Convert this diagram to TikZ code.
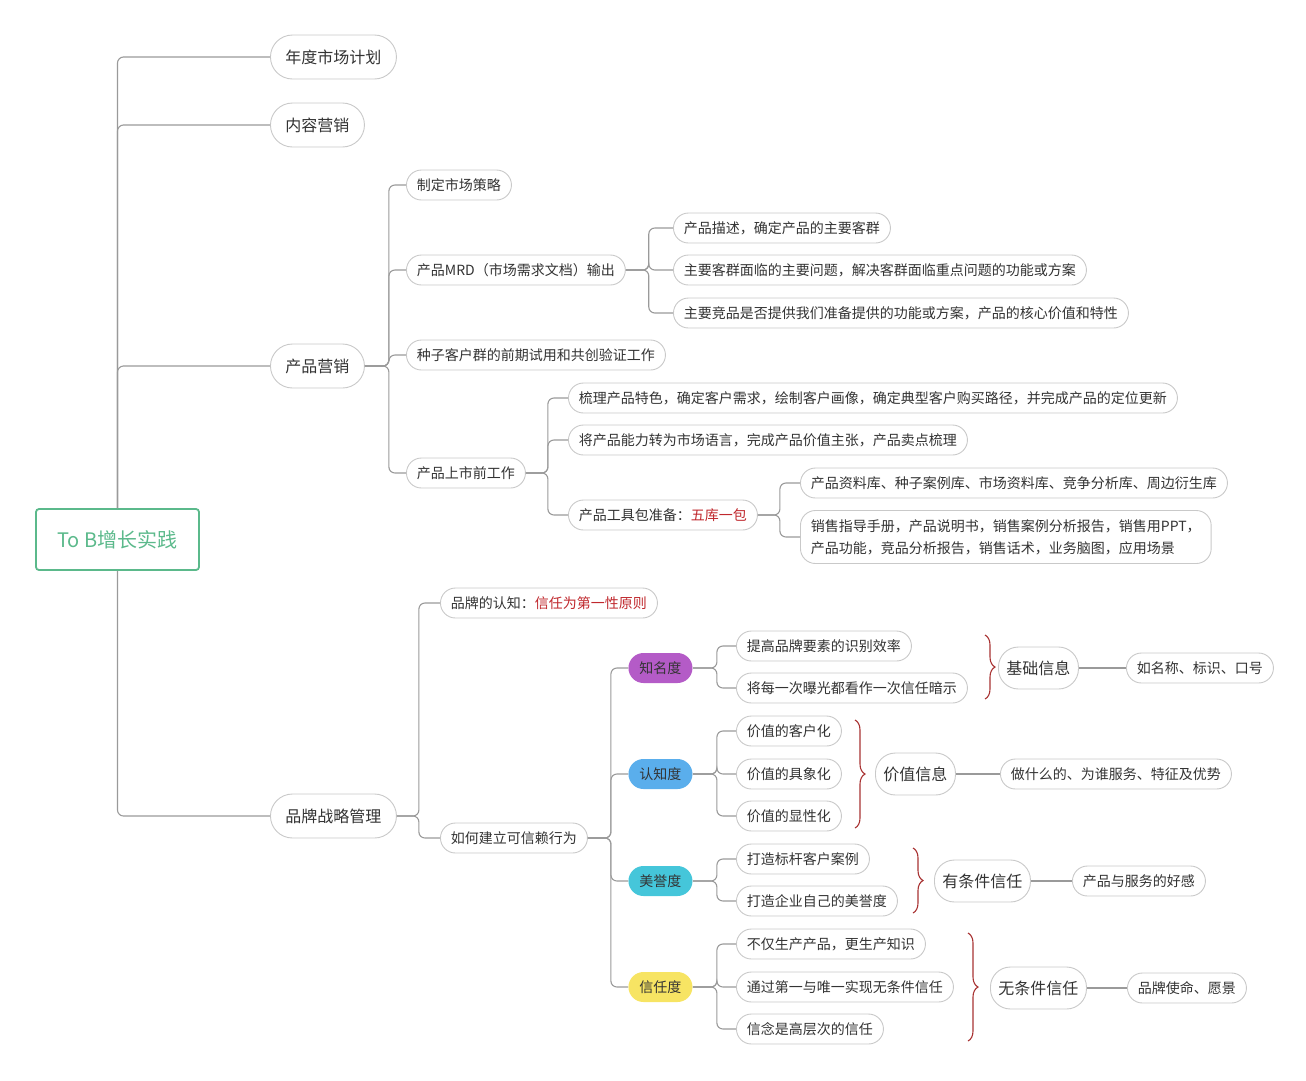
\documentclass[tikz,border=0pt]{standalone}
\usepackage{fontspec}
\setmainfont{Noto Sans CJK SC}
\usetikzlibrary{decorations.pathreplacing, calc}
\definecolor{txt}{HTML}{333333}
\definecolor{edge}{HTML}{C9C9C9}
\definecolor{wire}{HTML}{9A9A9A}
\definecolor{rootc}{HTML}{5BB98B}
\definecolor{hot}{HTML}{C0282D}
\definecolor{bracec}{HTML}{A83232}
\definecolor{purp}{HTML}{B45BC7}
\definecolor{bluec}{HTML}{5AAEEC}
\definecolor{cyanc}{HTML}{45C6DA}
\definecolor{yelc}{HTML}{F7E463}

\begin{document}
\begin{tikzpicture}[
    x=1pt, y=-1pt,
    nd/.style={draw=edge, line width=0.9pt, fill=white, rounded corners=15pt, minimum height=30pt, inner xsep=10.5pt, inner ysep=0pt, anchor=west, text=txt, font=\fontsize{14}{17}\selectfont},
    top/.style={nd, rounded corners=22pt, minimum height=44pt, inner xsep=15pt, font=\fontsize{16}{19}\selectfont},
    mid/.style={nd, rounded corners=20pt, minimum height=42pt, inner xsep=8pt, font=\fontsize{16}{19}\selectfont},
    tag/.style={nd, draw=none, inner xsep=11pt},
    root/.style={draw=rootc, line width=1.8pt, rounded corners=3pt, minimum width=163pt, minimum height=61pt, text=rootc, font=\fontsize{20}{24}\selectfont},
    conn/.style={draw=wire, line width=1.1pt, rounded corners=6pt},
    brc/.style={decorate, decoration={brace, amplitude=10pt}, draw=bracec, line width=1.1pt},
]
\useasboundingbox (0,0) rectangle (1306,1080);

% Root
\node[root] (root) at (117.5,539.5) {To B增长实践};

% Level 1
\node[top] (y1) at (270,57) {年度市场计划};
\node[top] (y2) at (270,125) {内容营销};
\node[top] (y3) at (270,366) {产品营销};
\node[top] (y4) at (270,816) {品牌战略管理};

% Product marketing
\node[nd] (p1) at (406,185) {制定市场策略};
\node[nd] (p2) at (406,270) {产品MRD（市场需求文档）输出};
\node[nd] (p3) at (406,355) {种子客户群的前期试用和共创验证工作};
\node[nd] (p4) at (406,473) {产品上市前工作};

\node[nd] (m1) at (673,228) {产品描述，确定产品的主要客群};
\node[nd] (m2) at (673,270) {主要客群面临的主要问题，解决客群面临重点问题的功能或方案};
\node[nd] (m3) at (673,313) {主要竞品是否提供我们准备提供的功能或方案，产品的核心价值和特性};

\node[nd] (s1) at (568,398) {梳理产品特色，确定客户需求，绘制客户画像，确定典型客户购买路径，并完成产品的定位更新};
\node[nd] (s2) at (568,440) {将产品能力转为市场语言，完成产品价值主张，产品卖点梳理};
\node[nd] (s3) at (568,515) {产品工具包准备：\textcolor{hot}{五库一包}};

\node[nd] (k1) at (800,483) {产品资料库、种子案例库、市场资料库、竞争分析库、周边衍生库};
\node[nd, align=left, minimum height=53pt, font=\fontsize{14}{22}\selectfont] (k2) at (800,537) {销售指导手册，产品说明书，销售案例分析报告，销售用PPT，\\产品功能，竞品分析报告，销售话术，业务脑图，应用场景};

% Brand
\node[nd] (b1) at (440,603) {品牌的认知：\textcolor{hot}{信任为第一性原则}};
\node[nd] (b2) at (440,838) {如何建立可信赖行为};

\node[tag, fill=purp] (t1) at (628,668) {知名度};
\node[tag, fill=bluec] (t2) at (628,774) {认知度};
\node[tag, fill=cyanc] (t3) at (628,881) {美誉度};
\node[tag, fill=yelc] (t4) at (628,987) {信任度};

\node[nd] (z1) at (736,646) {提高品牌要素的识别效率};
\node[nd] (z2) at (736,688) {将每一次曝光都看作一次信任暗示};
\node[nd] (c1) at (736,731) {价值的客户化};
\node[nd] (c2) at (736,774) {价值的具象化};
\node[nd] (c3) at (736,816) {价值的显性化};
\node[nd] (r1) at (736,859) {打造标杆客户案例};
\node[nd] (r2) at (736,901) {打造企业自己的美誉度};
\node[nd] (x1) at (736,944) {不仅生产产品，更生产知识};
\node[nd] (x2) at (736,987) {通过第一与唯一实现无条件信任};
\node[nd] (x3) at (736,1029) {信念是高层次的信任};

\node[mid] (jc) at (998,668) {基础信息};
\node[mid] (jz) at (875,774) {价值信息};
\node[mid] (yt) at (934,881) {有条件信任};
\node[mid] (wt) at (990,988) {无条件信任};

\node[nd] (jcr) at (1126,668) {如名称、标识、口号};
\node[nd] (jzr) at (1000,774) {做什么的、为谁服务、特征及优势};
\node[nd] (ytr) at (1072,881) {产品与服务的好感};
\node[nd] (wtr) at (1127,988) {品牌使命、愿景};

% Brace ends
\coordinate (ba1) at (985,635);  \coordinate (bb1) at (985,699);
\coordinate (ba2) at (855,720);  \coordinate (bb2) at (855,828);
\coordinate (ba3) at (913,848);  \coordinate (bb3) at (913,913);
\coordinate (ba4) at (968,933);  \coordinate (bb4) at (968,1041);

% Connectors
\foreach \n in {y1,y2,y3} \draw[conn] (root.north) |- (\n.west);
\draw[conn] (root.south) |- (y4.west);

\foreach \n in {p1,p2,p3,p4} \draw[conn] (y3.east) -- ++(24,0) |- (\n.west);
\foreach \n in {m1,m2,m3} \draw[conn] (p2.east) -- ++(23,0) |- (\n.west);
\foreach \n in {s1,s2,s3} \draw[conn] (p4.east) -- ++(22,0) |- (\n.west);
\foreach \n in {k1,k2} \draw[conn] (s3.east) -- ++(22,0) |- (\n.west);

\foreach \n in {b1,b2} \draw[conn] (y4.east) -- ++(22,0) |- (\n.west);
\foreach \n in {t1,t2,t3,t4} \draw[conn] (b2.east) -- ++(23,0) |- (\n.west);
\foreach \n in {z1,z2} \draw[conn] (t1.east) -- ++(24,0) |- (\n.west);
\foreach \n in {c1,c2,c3} \draw[conn] (t2.east) -- ++(24,0) |- (\n.west);
\foreach \n in {r1,r2} \draw[conn] (t3.east) -- ++(24,0) |- (\n.west);
\foreach \n in {x1,x2,x3} \draw[conn] (t4.east) -- ++(24,0) |- (\n.west);

\draw[conn] (jc.east) -- (jcr.west);
\draw[conn] (jz.east) -- (jzr.west);
\draw[conn] (yt.east) -- (ytr.west);
\draw[conn] (wt.east) -- (wtr.west);

% Braces
\draw[brc] (ba1) -- (bb1);
\draw[brc] (ba2) -- (bb2);
\draw[brc] (ba3) -- (bb3);
\draw[brc] (ba4) -- (bb4);

\end{tikzpicture}
\end{document}
